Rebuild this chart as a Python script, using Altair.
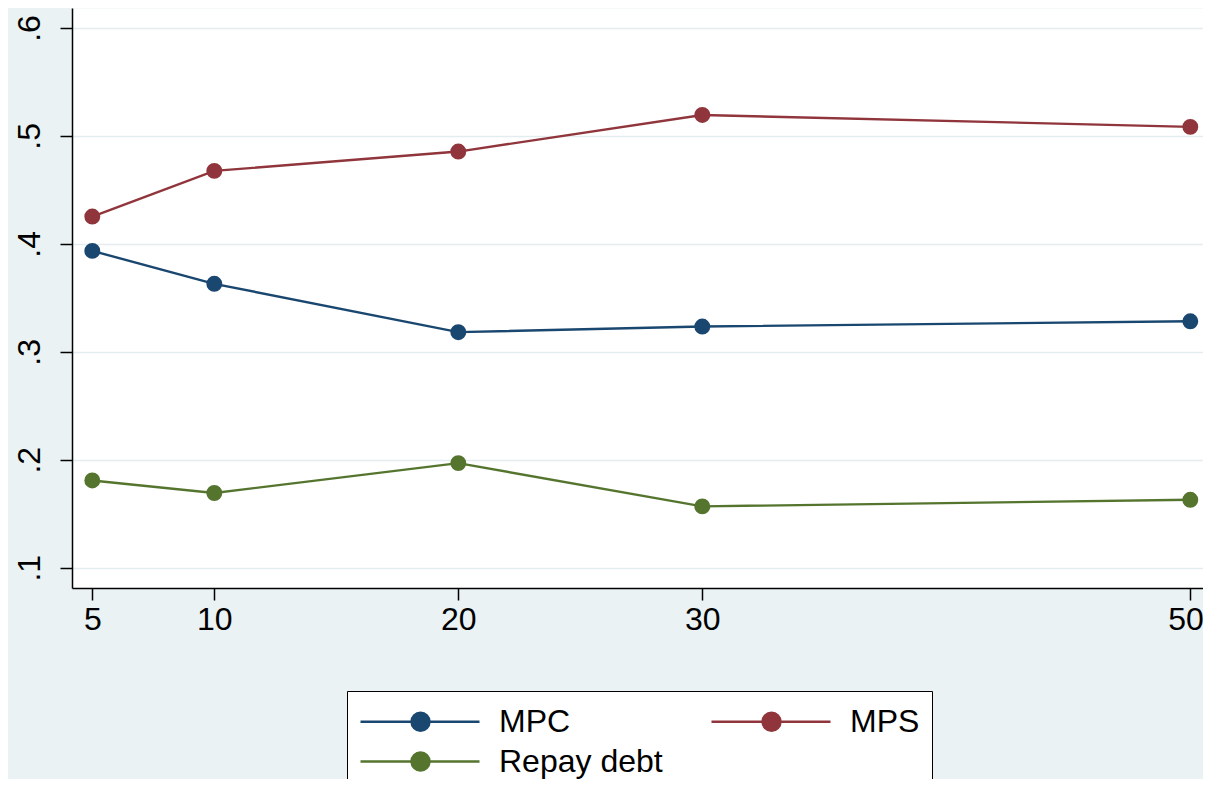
import altair as alt
import pandas as pd

horizons = [5, 10, 20, 30, 50]
mpc = [0.3935, 0.3630, 0.3182, 0.3234, 0.3283]
mps = [0.4253, 0.4676, 0.4855, 0.5194, 0.5084]
repay = [0.1808, 0.1692, 0.1969, 0.1568, 0.1629]

series_names = ["MPC", "MPS", "Repay debt"]
series_colors = ["#1A476F", "#90353B", "#55752F"]
y_ticks = [0.1, 0.2, 0.3, 0.4, 0.5, 0.6]

rows = []
for name, vals in zip(series_names, [mpc, mps, repay]):
    for h, v in zip(horizons, vals):
        rows.append({"Horizon": h, "Value": v, "Series": name})
data = pd.DataFrame(rows)

FONT = "Liberation Sans, Arial, sans-serif"
BG = "#EAF2F3"

# line + dot symbol for the legend (units scale with sqrt(size)/2)
LEGEND_SYMBOL = (
    "M-1,0H6M3.06,0A0.53,0.53,0,1,1,2.0,0A0.53,0.53,0,1,1,3.06,0Z"
)

legend = alt.Legend(
    title=None,
    orient="none",
    legendX=275,
    legendY=683,
    direction="horizontal",
    columns=2,
    columnPadding=43,
    rowPadding=5,
    padding=12,
    symbolType=LEGEND_SYMBOL,
    symbolSize=1156,
    symbolStrokeWidth=2.4,
    symbolOpacity=1,
    labelOffset=103,
    labelFont=FONT,
    labelFontSize=32,
    labelColor="black",
    labelLimit=400,
    fillColor="white",
    strokeColor="black",
    values=series_names,
)

x_enc = alt.X(
    "Horizon:Q",
    title=None,
    scale=alt.Scale(domain=[4.168, 50.52], nice=False, zero=False),
    axis=alt.Axis(
        values=horizons,
        grid=False,
        domainColor="black",
        domainWidth=1.5,
        tickColor="black",
        tickWidth=1.5,
        tickSize=12,
        labelFont=FONT,
        labelFontSize=32,
        labelColor="black",
        labelPadding=4,
        labelFlush=15,
        labelFlushOffset=13,
    ),
)
y_enc = alt.Y(
    "Value:Q",
    title=None,
    scale=alt.Scale(domain=[0.0812, 0.6185], nice=False, zero=False),
    axis=alt.Axis(
        values=y_ticks,
        labelExpr="substring(format(datum.value, '.1f'), 1)",
        grid=True,
        gridColor="#E3ECEE",
        gridWidth=1.5,
        domainColor="black",
        domainWidth=1.5,
        tickColor="black",
        tickWidth=1.5,
        tickSize=12,
        labelFont=FONT,
        labelFontSize=32,
        labelColor="black",
        labelAngle=270,
        labelAlign="center",
        labelBaseline="alphabetic",
        labelPadding=21,
        labelFlush=False,
    ),
)

color_scale = alt.Scale(domain=series_names, range=series_colors)

lines = (
    alt.Chart(data)
    .mark_line(strokeWidth=2.4, opacity=1)
    .encode(
        x=x_enc,
        y=y_enc,
        stroke=alt.Stroke("Series:N", scale=color_scale, legend=legend),
        detail="Series:N",
    )
)
points = (
    alt.Chart(data)
    .mark_circle(size=254, opacity=1)
    .encode(
        x="Horizon:Q",
        y="Value:Q",
        fill=alt.Fill("Series:N", scale=color_scale, legend=legend),
    )
)

chart = (
    (lines + points)
    .properties(
        width=1131,
        height=580,
        background=BG,
        padding={"left": 64, "top": 0, "right": 0, "bottom": 191},
        autosize=alt.AutoSizeParams(type="none"),
    )
    .configure_view(fill="white", stroke="transparent")
)

chart.save("out.html", embed_options={"renderer": "svg", "actions": False})
